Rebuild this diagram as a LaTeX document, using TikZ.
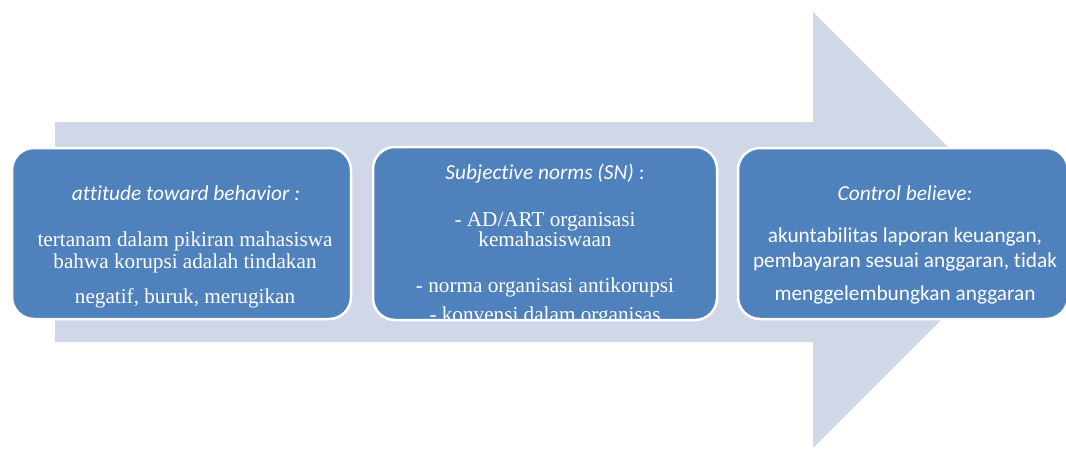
\documentclass[tikz,border=0pt]{standalone}
\usepackage{fontspec}
\setmainfont{Liberation Serif}
\newfontfamily\calibri[Ligatures=NoCommon]{Carlito}
\usetikzlibrary{positioning}
\definecolor{boxblue}{RGB}{79,129,189}
\definecolor{arrowgray}{RGB}{208,216,232}
\tikzset{
    stage/.style={
    rectangle,rounded corners=22pt,draw=white,line width=2.5pt,fill=boxblue,inner sep=0pt
    },
    head/.style={
    anchor=base,text=white,font=\calibri\fontsize{21.4}{24}\selectfont
    },
    serif/.style={
    anchor=base,text=white,font=\fontsize{21.2}{24}\selectfont
    },
    sans/.style={
    anchor=base,text=white,font=\calibri\fontsize{21.3}{24}\selectfont
    },
}

\begin{document}
\begin{tikzpicture}[x=1pt,y=-1pt]
   \useasboundingbox (0,0) rectangle (1066,448);
   % big arrow behind the stages
   \fill[arrowgray] (55,122) -- (813,122) -- (813,12) -- (1031,230)
      -- (813,448) -- (813,342) -- (55,342) -- cycle;

   \node[stage,minimum width=339pt,minimum height=171pt] (att) at (181.5,233.5) {};
   \node[stage,minimum width=344pt,minimum height=173pt] (sn) at (545,233.5) {};
   \node[stage,minimum width=330pt,minimum height=171pt] (cb) at (903,233.5) {};

   \node[head] (att0) at (186,200) {\itshape attitude toward behavior :};
   \node[serif] (att1) at (185,246) {tertanam dalam pikiran mahasiswa};
   \node[serif] (att2) at (185,268) {bahwa korupsi adalah tindakan};
   \node[serif] (att3) at (185,303) {negatif, buruk, merugikan};

   \node[head] (sn0) at (545,179) {{\itshape Subjective norms (SN)} :};
   \node[serif] (sn1) at (545,226) {- AD/ART organisasi};
   \node[serif] (sn2) at (545,246) {kemahasiswaan};
   \node[serif] (sn3) at (545,292) {- norma organisasi antikorupsi};
   \begin{scope}
     \clip (sn.north west) rectangle ([yshift=1.5pt]sn.south east);
     \node[serif] (sn4) at (545,321) {- konvensi dalam organisas};
   \end{scope}

   \node[head] (cb0) at (905,200) {\itshape Control believe:};
   \node[sans] (cb1) at (905,242) {akuntabilitas laporan keuangan,};
   \node[sans] (cb2) at (905,267) {pembayaran sesuai anggaran, tidak};
   \node[sans] (cb3) at (905,300) {menggelembungkan anggaran};
\end{tikzpicture}
\end{document}
